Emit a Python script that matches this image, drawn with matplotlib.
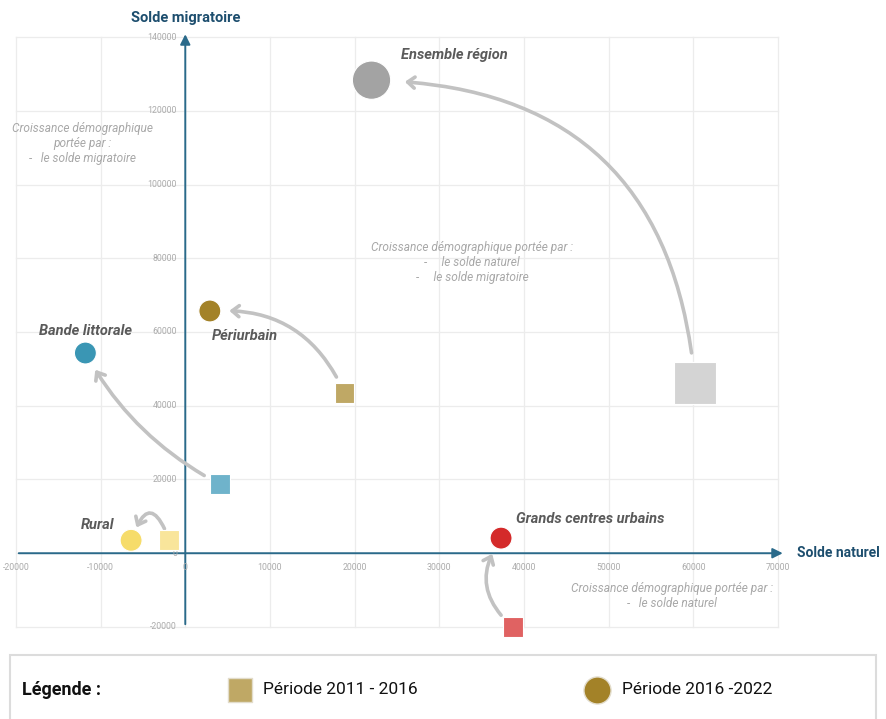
import numpy as np
import matplotlib
matplotlib.use('Agg')
import matplotlib.pyplot as plt
from matplotlib.patches import FancyArrowPatch, Rectangle

plt.rcParams['font.family'] = ['Roboto', 'DejaVu Sans']

# data (solde naturel, solde migratoire)
zones = ['Ensemble région', 'Périurbain', 'Bande littorale', 'Rural', 'Grands centres urbains']
nat_2011 = [60200, 18800, 4100, -1900, 38700]
mig_2011 = [46100, 43400, 18700, 3500, -20000]
nat_2016 = [22000, 2900, -11800, -6400, 37300]
mig_2016 = [128300, 65700, 54300, 3500, 4100]
col_2011 = ['#d4d4d4', '#bfa865', '#6fb3cb', '#f9e59b', '#e06262']
col_2016 = ['#a3a3a3', '#a38228', '#3a96b4', '#f6dc6a', '#d42a2a']
size_2011 = [900, 200, 200, 200, 200]
size_2016 = [760, 250, 250, 250, 250]
arc_rad = [0.45, 0.35, -0.15, 1.4, -0.45]
shrink_a = [22, 13, 13, 9, 12]
shrink_b = [24, 14, 14, 10, 13]
label_off = [(60, 18), (25, -18), (0, 16), (-24, 11), (64, 14)]

xticks = list(range(-20000, 70001, 10000))
yticks = list(range(-20000, 140001, 20000))

fig = plt.figure(figsize=(8.87, 7.19), dpi=100)
ax = fig.add_axes([0.018, 0.128, 0.859, 0.8205])
ax.set_xlim(-20000, 70000)
ax.set_ylim(-20000, 140000)
ax.set_axis_off()

grid_c = '#ececec'
for v in xticks:
    ax.plot([v, v], [-20000, 140000], color=grid_c, lw=0.9, zorder=0, clip_on=False)
for v in yticks:
    ax.plot([-20000, 70000], [v, v], color=grid_c, lw=0.9, zorder=0, clip_on=False)

# axes with arrows
axis_c = '#2a6a8a'
ax.annotate('', xy=(0, 141500), xytext=(0, -20000),
            arrowprops=dict(arrowstyle='-|>,head_length=0.6,head_width=0.3', color=axis_c, lw=1.4),
            annotation_clip=False, zorder=2)
ax.annotate('', xy=(70900, 0), xytext=(-20000, 0),
            arrowprops=dict(arrowstyle='-|>,head_length=0.6,head_width=0.3', color=axis_c, lw=1.4),
            annotation_clip=False, zorder=2)
ax.annotate('Solde migratoire', (0, 140000), xytext=(0, 9), textcoords='offset points',
            ha='center', va='bottom', fontsize=10.5, fontweight='bold', color='#1d4e6e',
            annotation_clip=False)
ax.annotate('Solde naturel', (70900, 0), xytext=(8, 0), textcoords='offset points',
            ha='left', va='center', fontsize=10, fontweight='bold', color='#1d4e6e',
            annotation_clip=False)

tick_c = '#ababab'
for v in yticks:
    ax.annotate(str(v), (0, v), xytext=(-6, 0), textcoords='offset points', ha='right',
                va='center', fontsize=6.3, color=tick_c, annotation_clip=False)
for v in xticks:
    ax.annotate(str(v), (v, 0), xytext=(0, -10), textcoords='offset points', ha='center',
                va='center', fontsize=6.3, color=tick_c, annotation_clip=False)

# arrows between periods
for i in range(len(zones)):
    arr = FancyArrowPatch((nat_2011[i], mig_2011[i]), (nat_2016[i], mig_2016[i]),
                          connectionstyle='arc3,rad=%s' % arc_rad[i],
                          arrowstyle='->,head_length=5,head_width=4',
                          color='#c2c2c2', lw=2.6,
                          shrinkA=shrink_a[i], shrinkB=shrink_b[i], zorder=3)
    ax.add_patch(arr)

ax.scatter(nat_2011, mig_2011, s=size_2011, c=col_2011, marker='s', linewidths=0.8,
           edgecolors='white', zorder=4, clip_on=False)
ax.scatter(nat_2016, mig_2016, s=size_2016, c=col_2016, marker='o', linewidths=0.8,
           edgecolors='white', zorder=4, clip_on=False)

for i, name in enumerate(zones):
    ax.annotate(name, (nat_2016[i], mig_2016[i]), xytext=label_off[i], textcoords='offset points',
                ha='center', va='center', fontsize=10.5, fontweight='bold', fontstyle='italic',
                color='#5a5a5a', zorder=5)

note_c = '#a8a8a8'
ax.text(-12200, 111000, 'Croissance démographique\nportée par :\n-   le solde migratoire',
        ha='center', va='center', fontsize=8.6, fontstyle='italic', color=note_c,
        linespacing=1.2)
ax.text(33900, 78800, 'Croissance démographique portée par :\n-     le solde naturel\n-     le solde migratoire',
        ha='center', va='center', fontsize=8.6, fontstyle='italic', color=note_c,
        linespacing=1.2)
ax.text(57500, -11700, 'Croissance démographique portée par :\n-   le solde naturel',
        ha='center', va='center', fontsize=8.6, fontstyle='italic', color=note_c,
        linespacing=1.2)

# legend box
fig.add_artist(Rectangle((0.0113, -0.05), 0.976, 0.139, transform=fig.transFigure,
                         facecolor='white', edgecolor='#dcdcdc', lw=1.5, zorder=-1))
fig.text(22 / 887, 1 - 690 / 719, 'Légende :', ha='left', va='center', fontsize=13,
         fontweight='bold', color='#111111')
lax = fig.add_axes([0, 0, 1, 0.089], zorder=2)
lax.set_xlim(0, 887)
lax.set_ylim(0, 64)
lax.set_axis_off()
lax.patch.set_alpha(0)
lax.scatter([240], [29], marker='s', s=300, c=col_2011[1], edgecolors='#e2dccb', linewidths=1)
lax.scatter([597], [29], marker='o', s=380, c=col_2016[1], edgecolors='#e2dccb', linewidths=1)
fig.text(263 / 887, 1 - 690 / 719, 'Période 2011 - 2016', ha='left', va='center',
         fontsize=12.5, color='#111111')
fig.text(622 / 887, 1 - 690 / 719, 'Période 2016 -2022', ha='left', va='center',
         fontsize=12.5, color='#111111')

fig.savefig('out.png', dpi=100)
